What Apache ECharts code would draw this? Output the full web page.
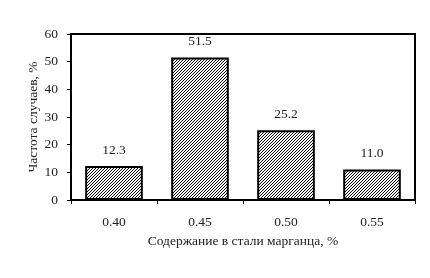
<!DOCTYPE html>
<html><head><meta charset="utf-8">
<script src="https://cdn.jsdelivr.net/npm/echarts@6/dist/echarts.min.js"></script>
<style>html,body{margin:0;padding:0;background:#fff}#c{width:430px;height:278px}</style>
</head><body><div id="c"></div>
<script>
const categories = ['0.40', '0.45', '0.50', '0.55'];
const values = [12.3, 51.5, 25.2, 11.0];
const yTicks = [0, 10, 20, 30, 40, 50, 60];

function hatch() {
  const c = document.createElement('canvas');
  c.width = 3; c.height = 3;
  const g = c.getContext('2d');
  g.fillStyle = '#fff'; g.fillRect(0, 0, 3, 3);
  g.fillStyle = '#000';
  g.fillRect(0, 2, 1, 1); g.fillRect(1, 1, 1, 1); g.fillRect(2, 0, 1, 1);
  return c;
}
const font = '"Liberation Serif", "Times New Roman", serif';
const tc = '#222';
const chart = echarts.init(document.getElementById('c'));
chart.setOption({
  animation: false,
  grid: { left: 71, right: 15, top: 34, bottom: 78, show: true, borderColor: '#000', borderWidth: 2, containLabel: false },
  xAxis: {
    type: 'category', data: categories,
    name: 'Содержание в стали марганца, %', nameLocation: 'middle', nameGap: 34, nameMoveOverlap: false,
    nameTextStyle: { fontFamily: font, fontSize: 13.5, color: tc },
    axisLine: { lineStyle: { color: '#000', width: 2 } },
    axisTick: { show: true, length: 4, lineStyle: { color: '#000', width: 1 } },
    axisLabel: { fontFamily: font, fontSize: 13.5, color: tc, margin: 15 },
    splitLine: { show: false }
  },
  yAxis: {
    type: 'value', min: 0, max: 60, interval: 10,
    name: 'Частота случаев, %', nameLocation: 'middle', nameGap: 31, nameRotate: 90, nameMoveOverlap: false,
    nameTextStyle: { fontFamily: font, fontSize: 13.5, color: tc },
    axisLine: { show: true, lineStyle: { color: '#000', width: 2 } },
    axisTick: { show: true, length: 4, lineStyle: { color: '#000', width: 1 } },
    axisLabel: { fontFamily: font, fontSize: 13.5, color: tc, margin: 13 },
    splitLine: { show: false }
  },
  series: [{
    type: 'bar', data: values, barCategoryGap: '33%',
    itemStyle: { color: { image: hatch(), repeat: 'repeat' }, borderColor: '#000', borderWidth: 2 },
    label: { show: true, position: 'top', distance: 9, fontFamily: font, fontSize: 13.5, color: tc,
      formatter: p => p.value.toFixed(1) }
  }]
});
</script></body></html>
